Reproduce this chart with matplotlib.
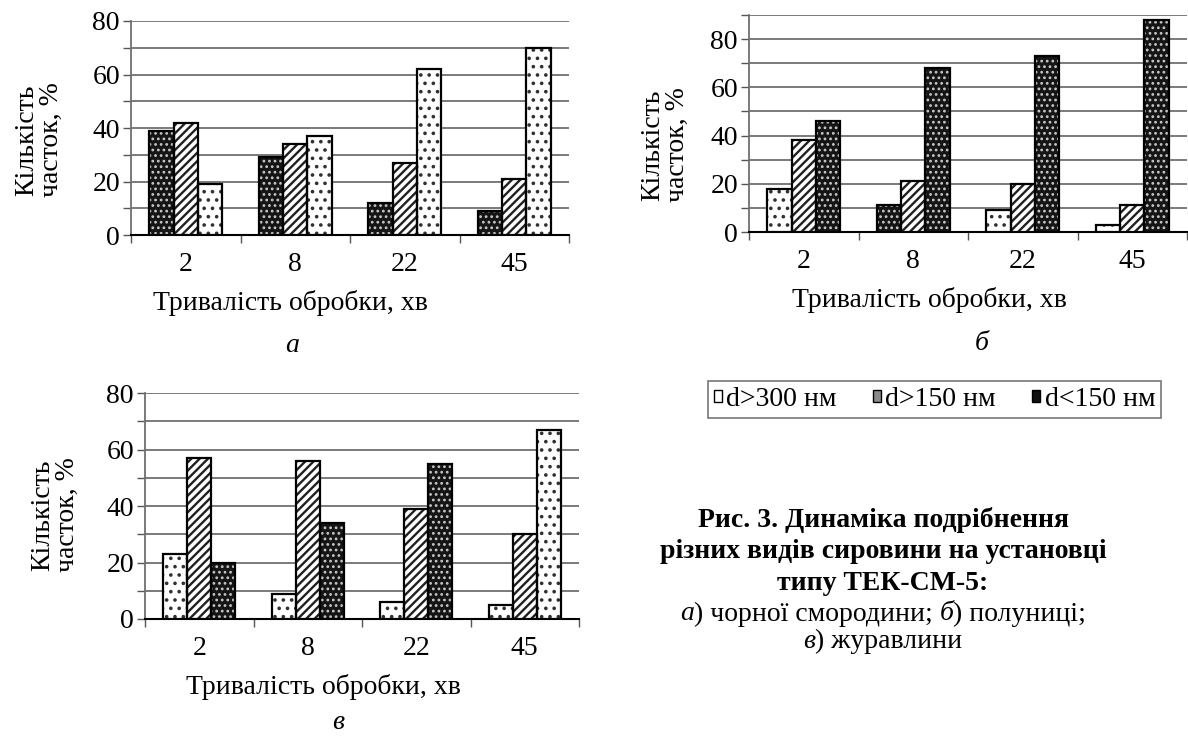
import matplotlib
matplotlib.use("Agg")
import matplotlib.pyplot as plt
from matplotlib.patches import Patch

plt.rcParams['font.family'] = ['Liberation Serif', 'DejaVu Serif']

W, H = 1188, 736

times = ["2", "8", "22", "45"]
legend_labels = ["d>300 нм", "d>150 нм", "d<150 нм"]

# а) чорна смородина
a_s1 = [39, 29, 12, 9]
a_s2 = [42, 34, 27, 21]
a_s3 = [19, 37, 62, 70]
# б) полуниця
b_s1 = [18, 11, 9, 3]
b_s2 = [38, 21, 20, 11]
b_s3 = [46, 68, 73, 88]
# в) журавлина
c_s1 = [23, 9, 6, 5]
c_s2 = [57, 56, 39, 30]
c_s3 = [20, 34, 55, 67]

# fill style of every bar (as printed)
a_fill = [["dark"] * 4, ["hatch"] * 4, ["light"] * 4]
b_fill = [["light", "dark", "light", "light"], ["hatch"] * 4, ["dark"] * 4]
c_fill = [["light"] * 4, ["hatch"] * 4, ["dark", "dark", "dark", "light"]]

fig = plt.figure(figsize=(W / 100, H / 100), dpi=100)


def px_axes(l, t, r, b):
    return fig.add_axes([l / W, 1 - b / H, (r - l) / W, (b - t) / H])


def bar_style(style):
    if style == "dark":
        plt.rcParams['hatch.linewidth'] = 1.2
        return dict(color='#151515', edgecolor='#c8c8c8', hatch='...')
    if style == "hatch":
        plt.rcParams['hatch.linewidth'] = 1.7
        return dict(color='white', edgecolor='#202020', hatch='////')
    plt.rcParams['hatch.linewidth'] = 1.4
    return dict(color='white', edgecolor='#303030', hatch='..')


def draw_panel(ax, series, fills, ymax):
    w = 0.222
    for k, (vals, fl) in enumerate(zip(series, fills)):
        for i, (v, st) in enumerate(zip(vals, fl)):
            x = i + 1 + (k - 1) * w
            ax.bar(x, v, w, linewidth=0, zorder=3, **bar_style(st))
            ax.bar(x, v, w, fill=False, edgecolor='black', linewidth=1.6, zorder=4)
    ax.set_xlim(0.5, 4.5)
    ax.set_ylim(0, ymax)
    ax.set_yticks(range(0, ymax + 1, 10), minor=True)
    ax.set_yticks(range(0, ymax + 1, 20))
    ax.grid(axis='y', which='both', color='#707070', linewidth=1.3, zorder=0)
    ax.set_xticks([1, 2, 3, 4])
    ax.set_xticklabels(times)
    ax.set_xticks([0.5, 1.5, 2.5, 3.5, 4.5], minor=True)
    ax.tick_params(axis='x', which='major', length=0, labelsize=20, pad=12)
    ax.tick_params(axis='x', which='minor', length=6, width=1, color='#555555', direction='out')
    ax.tick_params(axis='y', which='both', length=6, width=1, color='#555555', labelsize=20, pad=2)
    for s in ['top', 'right']:
        ax.spines[s].set_visible(False)
    ax.spines['left'].set_color('#707070')
    ax.spines['left'].set_linewidth(1.3)
    ax.spines['bottom'].set_color('black')
    ax.spines['bottom'].set_linewidth(1.5)
    ax.set_axisbelow(True)


def ftext(x, y, s, **kw):
    return fig.text(x / W, 1 - y / H, s, **kw)


ax_a = px_axes(131, 21, 569, 235)
draw_panel(ax_a, [a_s1, a_s2, a_s3], a_fill, 80)
ax_b = px_axes(749, 15, 1187, 232)
draw_panel(ax_b, [b_s1, b_s2, b_s3], b_fill, 90)
ax_c = px_axes(145, 393, 579, 619)
draw_panel(ax_c, [c_s1, c_s2, c_s3], c_fill, 80)

xlab = "Тривалість обробки, хв"
ylab = "Кількість\nчасток, %"
for (xx, yx), (xy, yy), (xl, yl), letter in [((290, 303), (39, 140), (292, 352), "а"),
                                           ((929, 300), (665, 145), (982, 350), "б"),
                                           ((323, 687), (55, 515), (338, 729), "в")]:
    ftext(xx, yx, xlab, fontsize=20, ha='center', va='center')
    ftext(xy, yy, ylab, fontsize=20, ha='center', va='center', rotation=90,
          multialignment='center', linespacing=1.0)
    ftext(xl, yl, letter, fontsize=20, ha='center', va='baseline', style='italic')

# legend
handles = [Patch(facecolor=fc, edgecolor='black', linewidth=1.0)
           for fc in ['white', '#8a8a8a', '#111111']]
leg = fig.legend(handles, legend_labels, loc='center', bbox_to_anchor=(934.5 / W, 1 - 399.5 / H),
                 ncol=3, fontsize=20, frameon=True, fancybox=False, edgecolor='#555555',
                 handlelength=0.3, handleheight=0.3, handletextpad=0.15, columnspacing=1.3,
                 borderpad=0.2, borderaxespad=0)
leg.get_frame().set_linewidth(1.2)

# caption
for s, y in [("Рис. 3. Динаміка подрібнення", 520),
             ("різних видів сировини на установці", 552),
             ("типу ТЕК-СМ-5:", 583)]:
    ftext(883, y, s, fontsize=20, weight='bold', ha='center', va='center')

renderer = fig.canvas.get_renderer()
sp1 = ftext(0, 0, "x x", fontsize=20)
sp2 = ftext(0, 0, "xx", fontsize=20)
space_w = sp1.get_window_extent(renderer).width - sp2.get_window_extent(renderer).width
sp1.remove()
sp2.remove()


def mixed_line(xc, y, parts):
    objs, widths = [], []
    for s, st in parts:
        gap = space_w if s.endswith(" ") else 0
        o = ftext(0, y, s.rstrip(" "), fontsize=20, style=st, ha='left', va='center')
        objs.append(o)
        widths.append(o.get_window_extent(renderer).width + gap)
    x = xc - sum(widths) / 2
    for o, w in zip(objs, widths):
        o.set_x(x / W)
        x += w


mixed_line(883, 614, [("а", "italic"), (") чорної смородини; ", "normal"),
                      ("б", "italic"), (") полуниці;", "normal")])
mixed_line(883, 641, [("в", "italic"), (") журавлини", "normal")])

fig.savefig("out.png", dpi=100)
